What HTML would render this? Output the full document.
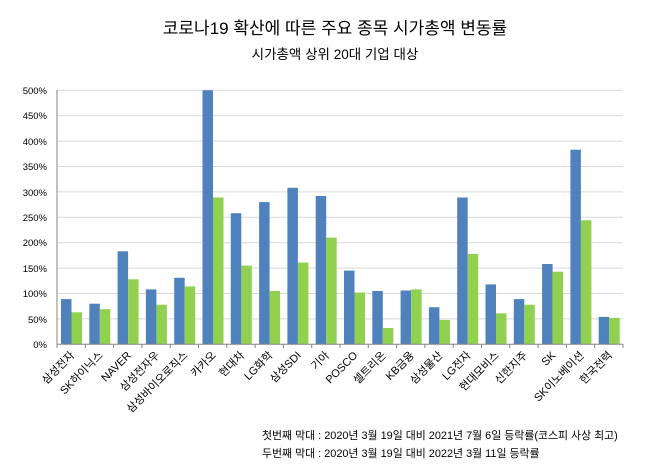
<!DOCTYPE html>
<html><head><meta charset="utf-8"><style>
body{margin:0;background:#fff}
svg{display:block;font-family:"Liberation Sans","Noto Sans CJK KR",sans-serif}
</style></head><body>
<svg width="670" height="471" viewBox="0 0 670 471">
<text x="335" y="34" text-anchor="middle" font-size="17" fill="#000">코로나19  확산에 따른 주요 종목 시가총액 변동률</text>
<text x="335" y="59" text-anchor="middle" font-size="13.5" fill="#000">시가총액 상위 20대 기업 대상</text>
<g stroke="#d9d9d9" stroke-width="1">
<line x1="57" x2="623" y1="90.3" y2="90.3"/><line x1="57" x2="623" y1="115.7" y2="115.7"/>
<line x1="57" x2="623" y1="141.1" y2="141.1"/><line x1="57" x2="623" y1="166.5" y2="166.5"/>
<line x1="57" x2="623" y1="191.9" y2="191.9"/><line x1="57" x2="623" y1="217.3" y2="217.3"/>
<line x1="57" x2="623" y1="242.7" y2="242.7"/><line x1="57" x2="623" y1="268.1" y2="268.1"/>
<line x1="57" x2="623" y1="293.5" y2="293.5"/><line x1="57" x2="623" y1="318.9" y2="318.9"/>
</g>
<g font-size="9.5" text-anchor="end" fill="#000">
<text x="47" y="94">500%</text><text x="47" y="119">450%</text><text x="47" y="145">400%</text>
<text x="47" y="170">350%</text><text x="47" y="196">300%</text><text x="47" y="221">250%</text>
<text x="47" y="246">200%</text><text x="47" y="272">150%</text><text x="47" y="297">100%</text>
<text x="47" y="323">50%</text><text x="47" y="348">0%</text>
</g>
<g fill="#4f81bd">
<rect x="61" y="299.1" width="10.5" height="45.2"/>
<rect x="89.3" y="303.7" width="10.5" height="40.6"/>
<rect x="117.6" y="251.3" width="10.5" height="93"/>
<rect x="145.9" y="289.4" width="10.5" height="54.9"/>
<rect x="174.2" y="277.8" width="10.5" height="66.5"/>
<rect x="202.5" y="90.3" width="10.5" height="254"/>
<rect x="230.8" y="213.2" width="10.5" height="131.1"/>
<rect x="259.1" y="202.1" width="10.5" height="142.2"/>
<rect x="287.4" y="187.8" width="10.5" height="156.5"/>
<rect x="315.7" y="196" width="10.5" height="148.3"/>
<rect x="344" y="270.6" width="10.5" height="73.7"/>
<rect x="372.3" y="291" width="10.5" height="53.3"/>
<rect x="400.6" y="290.5" width="10.5" height="53.8"/>
<rect x="428.9" y="307.2" width="10.5" height="37.1"/>
<rect x="457.2" y="197.5" width="10.5" height="146.8"/>
<rect x="485.5" y="284.4" width="10.5" height="59.9"/>
<rect x="513.8" y="299.1" width="10.5" height="45.2"/>
<rect x="542.1" y="264" width="10.5" height="80.3"/>
<rect x="570.4" y="149.7" width="10.5" height="194.6"/>
<rect x="598.7" y="316.9" width="10.5" height="27.4"/>
</g>
<g fill="#92d050">
<rect x="71.5" y="312.3" width="10.5" height="32"/>
<rect x="99.8" y="309.2" width="10.5" height="35.1"/>
<rect x="128.1" y="279.3" width="10.5" height="65"/>
<rect x="156.4" y="304.7" width="10.5" height="39.6"/>
<rect x="184.7" y="286.4" width="10.5" height="57.9"/>
<rect x="213" y="197.5" width="10.5" height="146.8"/>
<rect x="241.3" y="265.6" width="10.5" height="78.7"/>
<rect x="269.6" y="291" width="10.5" height="53.3"/>
<rect x="297.9" y="262.5" width="10.5" height="81.8"/>
<rect x="326.2" y="237.6" width="10.5" height="106.7"/>
<rect x="354.5" y="292.5" width="10.5" height="51.8"/>
<rect x="382.8" y="328" width="10.5" height="16.3"/>
<rect x="411.1" y="289.4" width="10.5" height="54.9"/>
<rect x="439.4" y="319.9" width="10.5" height="24.4"/>
<rect x="467.7" y="253.9" width="10.5" height="90.4"/>
<rect x="496" y="313.3" width="10.5" height="31"/>
<rect x="524.3" y="304.7" width="10.5" height="39.6"/>
<rect x="552.6" y="271.7" width="10.5" height="72.6"/>
<rect x="580.9" y="220.3" width="10.5" height="124"/>
<rect x="609.2" y="317.9" width="10.5" height="26.4"/>
</g>
<g stroke="#868686" stroke-width="1">
<line x1="57" x2="623" y1="344.3" y2="344.3"/>
<line x1="57" x2="57" y1="90" y2="344.3"/>
<path d="M57 344v4M85.3 344v4M113.6 344v4M141.9 344v4M170.2 344v4M198.5 344v4M226.8 344v4M255.1 344v4M283.4 344v4M311.7 344v4M340 344v4M368.3 344v4M396.6 344v4M424.9 344v4M453.2 344v4M481.5 344v4M509.8 344v4M538.1 344v4M566.4 344v4M594.7 344v4M623 344v4"/>
</g>
<g font-size="11" text-anchor="end" fill="#000">
<text transform="translate(75,356) rotate(-45)">삼성전자</text>
<text transform="translate(103.5,356) rotate(-45)">SK하이닉스</text>
<text transform="translate(131.8,356) rotate(-45)">NAVER</text>
<text transform="translate(160.1,356) rotate(-45)">삼성전자우</text>
<text transform="translate(188.4,356) rotate(-45)">삼성바이오로직스</text>
<text transform="translate(216.7,356) rotate(-45)">카카오</text>
<text transform="translate(245,356) rotate(-45)">현대차</text>
<text transform="translate(273.3,356) rotate(-45)">LG화학</text>
<text transform="translate(301.6,356) rotate(-45)">삼성SDI</text>
<text transform="translate(329.9,356) rotate(-45)">기아</text>
<text transform="translate(358.2,356) rotate(-45)">POSCO</text>
<text transform="translate(386.5,356) rotate(-45)">셀트리온</text>
<text transform="translate(414.8,356) rotate(-45)">KB금융</text>
<text transform="translate(443.1,356) rotate(-45)">삼성물산</text>
<text transform="translate(471.4,356) rotate(-45)">LG전자</text>
<text transform="translate(499.7,356) rotate(-45)">현대모비스</text>
<text transform="translate(528,356) rotate(-45)">신한지주</text>
<text transform="translate(556.3,356) rotate(-45)">SK</text>
<text transform="translate(584.6,356) rotate(-45)">SK이노베이션</text>
<text transform="translate(612.9,356) rotate(-45)">한국전력</text>
</g>
<g font-size="10.9" fill="#000">
<text x="262" y="439">첫번째 막대 : 2020년 3월 19일 대비 2021년 7월  6일 등락률(코스피 사상 최고)</text>
<text x="262" y="457">두번째 막대 : 2020년 3월 19일 대비 2022년 3월 11일 등락률</text>
</g>
</svg>
</body></html>
